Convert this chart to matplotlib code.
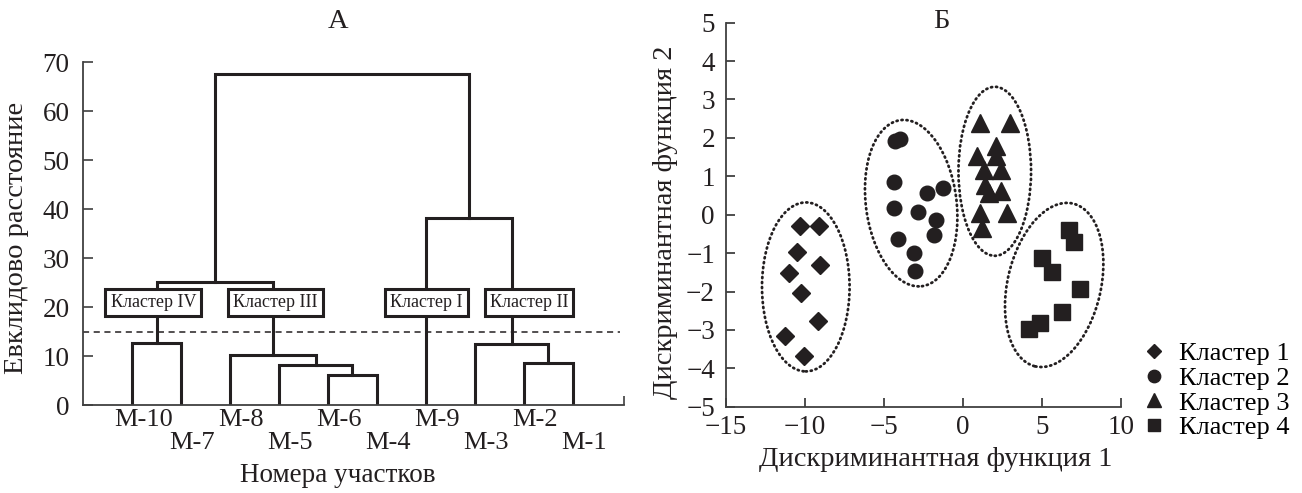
import matplotlib
matplotlib.use("Agg")
import matplotlib.pyplot as plt
from matplotlib.patches import Ellipse
from matplotlib.transforms import Affine2D, ScaledTranslation

plt.rcParams["font.family"] = ["Liberation Serif", "DejaVu Serif"]
plt.rcParams["axes.unicode_minus"] = True

INK = "#231f20"
AXC = "#404040"

# --- Dendrogram (panel A) ---
leaves = ["М-10", "М-7", "М-8", "М-5", "М-6", "М-4", "М-9", "М-3", "М-2", "М-1"]
# merges in scipy style: nodes 0..9 are leaves, new nodes numbered from 10
merge_a = [4, 3, 2, 0, 8, 7, 13, 6, 16]
merge_b = [5, 10, 11, 1, 9, 14, 12, 15, 17]
merge_h = [6.2, 8.3, 10.3, 12.7, 8.6, 12.6, 25.1, 38.3, 67.5]
cut_level = 15
cluster_names = ["Кластер IV", "Кластер III", "Кластер I", "Кластер II"]
cluster_nodes = [13, 12, 6, 15]

# --- Discriminant scatter (panel B) ---
c1_x = [-10.30, -9.14, -10.51, -9.03, -11.04, -10.25, -9.18, -11.25, -10.09]
c1_y = [-0.29, -0.29, -0.97, -1.32, -1.53, -2.04, -2.76, -3.15, -3.69]
c2_x = [-4.28, -3.97, -4.35, -2.28, -1.27, -4.35, -2.87, -1.71, -1.86, -4.14, -3.12, -3.02]
c2_y = [1.92, 1.96, 0.84, 0.56, 0.69, 0.17, 0.07, -0.15, -0.53, -0.62, -1.01, -1.46]
c3_x = [1.05, 2.95, 2.11, 0.89, 2.11, 1.30, 2.40, 1.41, 2.40, 1.62, 1.10, 2.78, 1.20]
c3_y = [2.40, 2.40, 1.79, 1.52, 1.52, 1.17, 1.17, 0.78, 0.61, 0.56, 0.04, 0.04, -0.35]
c4_x = [6.69, 7.00, 5.00, 5.63, 7.42, 6.27, 4.89, 4.15]
c4_y = [-0.40, -0.72, -1.14, -1.49, -1.93, -2.54, -2.83, -2.97]
legend_labels = ["Кластер 1", "Кластер 2", "Кластер 3", "Кластер 4"]

TICK_FS = 19.5
LAB_FS = 20.5

fig = plt.figure(figsize=(13.02, 4.93), dpi=100)
axA = fig.add_axes([0.064, 0.1775, 0.4153, 0.6967])
axB = fig.add_axes([0.5576, 0.175, 0.3034, 0.779])

# draw dendrogram
node_x = {i: i + 1.0 for i in range(len(leaves))}
node_h = {i: 0.0 for i in range(len(leaves))}
for k, (a, b, h) in enumerate(zip(merge_a, merge_b, merge_h)):
    xa, xb = node_x[a], node_x[b]
    axA.plot([xa, xa, xb, xb], [node_h[a], h, h, node_h[b]],
             color=INK, lw=2.2, solid_joinstyle="miter")
    node_x[len(leaves) + k] = (xa + xb) / 2
    node_h[len(leaves) + k] = h

axA.axhline(cut_level, xmin=0, xmax=0.993, color=INK, lw=1.1, ls=(0, (4, 3)))

box_shift = [-0.07, 0.05, 0.01, 0.36]
for name, node, dx in zip(cluster_names, cluster_nodes, box_shift):
    axA.text(node_x[node] + dx, 21.0, name, ha="center", va="center",
             fontsize=13, color=INK, zorder=5,
             bbox=dict(boxstyle="square,pad=0.28", fc="white", ec=INK, lw=2.2))

axA.set_xlim(0, 11.05)
axA.set_ylim(0, 70)
axA.set_yticks(range(0, 71, 10))
axA.set_xticks([node_x[i] for i in range(len(leaves))])
axA.set_xticklabels([lab if i % 2 == 0 else "\n" + lab for i, lab in enumerate(leaves)],
                    linespacing=1.05)
axA.set_xticks([11.05], minor=True)
axA.tick_params(axis="x", which="major", length=0, pad=2.5, labelsize=19, colors=INK)
axA.tick_params(axis="x", which="minor", direction="in", length=6.5, width=1.2, color=AXC)
axA.tick_params(axis="y", direction="in", length=7, width=1.2, color=AXC,
                pad=10, labelsize=TICK_FS, labelcolor=INK)
shift = ScaledTranslation(0.11, 0, fig.dpi_scale_trans)
for lab in axA.get_xticklabels():
    lab.set_transform(lab.get_transform() + shift)
for s in ["top", "right"]:
    axA.spines[s].set_visible(False)
for s in ["left", "bottom"]:
    axA.spines[s].set_color(AXC)
    axA.spines[s].set_linewidth(1.3)

fig.text(338 / 1302, 1 - 21 / 493, "А", ha="center", va="center", fontsize=LAB_FS, color=INK)
fig.text(338 / 1302, 1 - 475 / 493, "Номера участков", ha="center", va="center",
         fontsize=19.5, color=INK)
fig.text(17 / 1302, 1 - 238 / 493, "Евклидово расстояние", ha="center", va="center",
         rotation=90, fontsize=LAB_FS, color=INK)

# scatter panel
axB.set_xlim(-15, 10)
axB.set_ylim(-5, 5)
fig.canvas.draw()
bb = axB.get_window_extent()
k_iso = (bb.width / 25) / (bb.height / 10)
iso = Affine2D().scale(1 / k_iso, 1) + axB.transData

ell_c = [(-9.95, -1.88), (-3.28, 0.30), (2.01, 1.13), (5.77, -1.83)]
ell_w = [2.28, 2.36, 1.89, 2.43]
ell_h = [4.40, 4.36, 4.40, 4.35]
ell_a = [0, 7.4, 0, -13.0]
for (cx, cy), w, h, ang in zip(ell_c, ell_w, ell_h, ell_a):
    e = Ellipse((cx * k_iso, cy), w, h, angle=ang, transform=iso, fill=False,
                ec=INK, lw=2.0, ls=(0, (0.4, 1.4)))
    e.set_capstyle("round")
    axB.add_patch(e)

h1, = axB.plot(c1_x, c1_y, "D", ms=8.8, color=INK, ls="none", label=legend_labels[0])
h2, = axB.plot(c2_x, c2_y, "o", ms=10.5, color=INK, ls="none", label=legend_labels[1])
h3, = axB.plot(c3_x, c3_y, "^", ms=12.5, color=INK, ls="none", label=legend_labels[2])
h4, = axB.plot(c4_x, c4_y, "s", ms=11, color=INK, ls="none", label=legend_labels[3])

axB.set_xticks(range(-15, 11, 5))
axB.set_yticks(range(-5, 6))
axB.tick_params(direction="in", length=6.5, width=1.3, color=AXC,
                labelsize=TICK_FS, labelcolor=INK)
axB.tick_params(axis="x", pad=6)
axB.tick_params(axis="y", pad=8)
for s in ["top", "right"]:
    axB.spines[s].set_visible(False)
for s in ["left", "bottom"]:
    axB.spines[s].set_color(AXC)
    axB.spines[s].set_linewidth(1.3)

fig.text(941.7 / 1302, 1 - 21 / 493, "Б", ha="center", va="center", fontsize=LAB_FS, color=INK)
fig.text(936 / 1302, 1 - 460 / 493, "Дискриминантная функция 1", ha="center", va="center",
         fontsize=LAB_FS, color=INK)
fig.text(665 / 1302, 1 - 222 / 493, "Дискриминантная функция 2", ha="center", va="center",
         rotation=90, fontsize=LAB_FS, color=INK)

fig.legend(handles=[h1, h2, h3, h4], loc="upper left", bbox_to_anchor=(0.876, 0.307),
           frameon=False, fontsize=19, handlelength=1.0, handletextpad=0.45,
           labelspacing=0.05, borderpad=0, borderaxespad=0, markerscale=0.85)

fig.savefig("out.png", dpi=100)
